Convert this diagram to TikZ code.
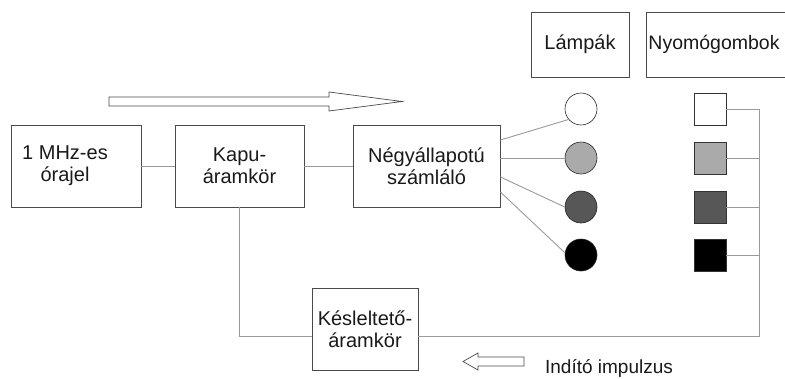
\documentclass[tikz,border=0pt]{standalone}
\usepackage{fontspec}
\setmainfont{Liberation Sans}
\usepackage{tikz}

\definecolor{framegray}{HTML}{4A4A4A}
\definecolor{wiregray}{HTML}{9A9A9A}
\definecolor{lightfill}{HTML}{AAAAAA}
\definecolor{darkfill}{HTML}{575757}

\begin{document}
\begin{tikzpicture}[x=1pt,y=-1pt,
    boxtext/.style={align=center, inner sep=0pt, font=\fontsize{20}{22}\selectfont, text=black!90},
    box/.style={draw=framegray, line width=0.9pt, boxtext},
    lamp/.style={circle, draw=black!85, line width=0.6pt, minimum size=32pt, inner sep=0pt},
    button/.style={rectangle, draw=black!80, line width=0.6pt, minimum size=32pt, inner sep=0pt},
    wire/.style={draw=wiregray, line width=0.9pt},
    hollow/.style={draw=framegray, line width=0.7pt, fill=white}]
  \useasboundingbox (0,0) rectangle (785,378);

  % blocks
  \node[box, minimum width=130pt, minimum height=82pt,
    label={[boxtext, xshift=-11pt]center:1 MHz-es\\órajel}] (clock) at (76,166) {};
  \node[box, minimum width=129pt, minimum height=82pt] (gate) at (239.5,166) {Kapu-\\áramkör};
  \node[box, minimum width=147pt, minimum height=82pt] (counter) at (426.5,166) {Négyállapotú\\számláló};
  \node[box, minimum width=106pt, minimum height=82pt] (delay) at (365,329) {Késleltető-\\áramkör};
  \node[box, minimum width=98pt, minimum height=65pt] (lamps) at (580,44.5) {Lámpák};
  \node[box, minimum width=148pt, minimum height=65pt, text width=144pt, align=left,
    inner xsep=2pt, font=\fontsize{19.5}{22}\selectfont, anchor=west] (buttons) at (646,44.5) {Nyomógombok};

  % lamps and buttons
  \node[lamp, fill=white] (lamp1) at (581,109) {};
  \node[lamp, fill=lightfill] (lamp2) at (581,158) {};
  \node[lamp, fill=darkfill] (lamp3) at (581,207) {};
  \node[lamp, fill=black] (lamp4) at (581,255) {};
  \node[button, fill=white] (btn1) at (710,109) {};
  \node[button, fill=lightfill] (btn2) at (710,158) {};
  \node[button, fill=darkfill] (btn3) at (710,207) {};
  \node[button, fill=black] (btn4) at (710,255) {};
  \coordinate (bus) at (759,336);

  % connections
  \draw[wire] (clock.east) -- (gate.west);
  \draw[wire] (gate.east) -- (counter.west);
  \draw[wire] ([yshift=26pt]counter.east) -- (lamp1.220);
  \draw[wire] ([yshift=8pt]counter.east) -- (lamp2.west);
  \draw[wire] ([yshift=-11pt]counter.east) -- (lamp3.west);
  \draw[wire] ([yshift=-26pt]counter.east) -- (lamp4.172);
  \draw[wire] (btn1.east) -| (bus) -- ([yshift=-7pt]delay.east);
  \foreach \b in {btn2,btn3,btn4}
    \draw[wire] (\b.east) -- (\b.east -| bus);
  \draw[wire] (gate.south) |- ([yshift=-7pt]delay.west);

  % hollow arrows
  \draw[hollow] (109,97) -- (329,97) -- (329,92) -- (402,101.5) -- (329,111)
    -- (329,106) -- (109,106) -- cycle;
  \draw[hollow] (524,357) -- (478,357) -- (478,353) -- (463,361.5) -- (478,370)
    -- (478,366) -- (524,366) -- cycle;
  \node[font=\fontsize{19}{22}\selectfont, anchor=base, text=black!90] (start) at (609,373) {Indító impulzus};
\end{tikzpicture}
\end{document}
